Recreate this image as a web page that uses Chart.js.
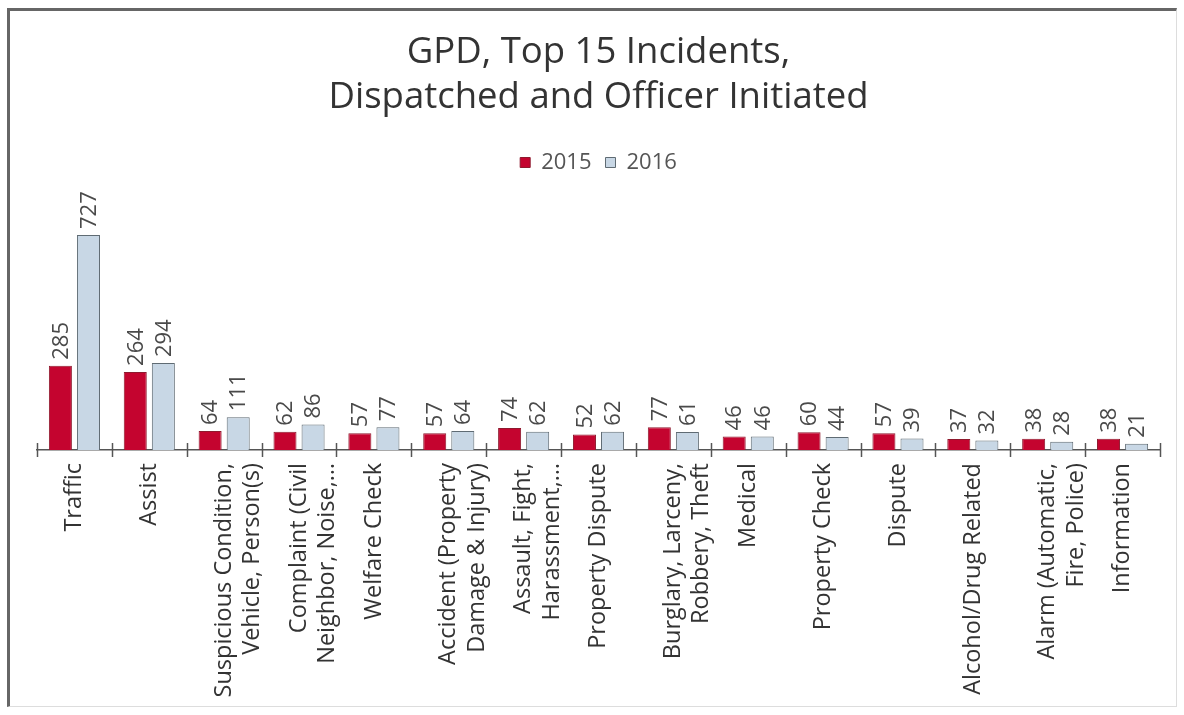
<!DOCTYPE html>
<html>
<head>
<meta charset="utf-8">
<title>GPD, Top 15 Incidents</title>
<script src="https://cdn.jsdelivr.net/npm/chart.js@4/dist/chart.umd.min.js"></script>
<style>
  html, body { margin: 0; padding: 0; background: #fff; }
  body { width: 1184px; height: 715px; position: relative; overflow: hidden; }
  #frame {
    position: absolute; left: 7px; top: 8px; width: 1170px; height: 699px;
    box-sizing: border-box;
    border-left: 3px solid #666; border-top: 3px solid #666;
    border-right: 1px solid #ddd; border-bottom: 1px solid #ddd;
  }
  #chart { position: absolute; left: 10px; top: 11px; }
</style>
</head>
<body>
<div id="frame"></div>
<canvas id="chart" width="1165" height="694"></canvas>
<script>
var categories = [
  'Traffic',
  'Assist',
  ['Suspicious Condition,', 'Vehicle, Person(s)'],
  ['Complaint (Civil', 'Neighbor, Noise,…'],
  'Welfare Check',
  ['Accident (Property', 'Damage & Injury)'],
  ['Assault, Fight,', 'Harassment,…'],
  'Property Dispute',
  ['Burglary, Larceny,', 'Robbery, Theft'],
  'Medical',
  'Property Check',
  'Dispute',
  'Alcohol/Drug Related',
  ['Alarm (Automatic,', 'Fire, Police)'],
  'Information'
];
var values2015 = [285, 264, 64, 62, 57, 57, 74, 52, 77, 46, 60, 57, 37, 38, 38];
var values2016 = [727, 294, 111, 86, 77, 64, 62, 62, 61, 46, 44, 39, 32, 28, 21];

var FONT = '"Open Sans", Lato, sans-serif';

// value labels above each bar, rotated like the original
var barLabels = {
  id: 'barLabels',
  afterDatasetsDraw: function (chart) {
    var ctx = chart.ctx;
    ctx.save();
    ctx.font = '22px ' + FONT;
    ctx.fillStyle = '#4a4a4a';
    ctx.textAlign = 'left';
    ctx.textBaseline = 'middle';
    chart.data.datasets.forEach(function (ds, di) {
      var meta = chart.getDatasetMeta(di);
      meta.data.forEach(function (bar, i) {
        ctx.save();
        ctx.translate(bar.x, bar.y - 6);
        ctx.rotate(-Math.PI / 2);
        ctx.fillText(String(ds.data[i]), 0, 1);
        ctx.restore();
      });
    });
    ctx.restore();
  }
};

// small tick marks crossing the category axis between groups
var axisTicks = {
  id: 'axisTicks',
  afterDraw: function (chart) {
    var x = chart.scales.x;
    var ctx = chart.ctx;
    var n = categories.length;
    var step = (x.right - x.left) / n;
    ctx.save();
    ctx.strokeStyle = '#555';
    ctx.lineWidth = 1.5;
    for (var i = 0; i <= n; i++) {
      var px = Math.round(x.left + i * step) + 0.5;
      ctx.beginPath();
      ctx.moveTo(px, x.top - 7);
      ctx.lineTo(px, x.top + 7);
      ctx.stroke();
    }
    ctx.restore();
  }
};

new Chart(document.getElementById('chart'), {
  type: 'bar',
  data: {
    labels: categories,
    datasets: [
      {
        label: '2015',
        data: values2015,
        backgroundColor: '#c4042f',
        borderColor: '#8e1a2e',
        borderWidth: 1,
        categoryPercentage: 0.75,
        barPercentage: 0.82
      },
      {
        label: '2016',
        data: values2016,
        backgroundColor: '#c8d7e5',
        borderColor: '#5f6b73',
        borderWidth: 1,
        categoryPercentage: 0.75,
        barPercentage: 0.82
      }
    ]
  },
  options: {
    responsive: false,
    animation: false,
    layout: { padding: { left: 27, right: 15, top: 0, bottom: 0 } },
    scales: {
      x: {
        grid: { display: false, drawTicks: false },
        border: { display: true, color: '#555', width: 1.5 },
        ticks: {
          autoSkip: false,
          minRotation: 90,
          maxRotation: 90,
          padding: 13,
          color: '#333',
          font: { family: FONT, size: 23.5, lineHeight: 1.2 }
        },
        afterFit: function (scale) { scale.height = 255; }
      },
      y: {
        display: false,
        min: 0,
        max: 901
      }
    },
    plugins: {
      title: {
        display: true,
        text: ['GPD, Top 15 Incidents,', 'Dispatched and Officer Initiated'],
        color: '#333',
        font: { family: FONT, size: 36.5, weight: 'normal', lineHeight: 1.233 },
        padding: { top: 19.5, bottom: 17 }
      },
      legend: {
        display: true,
        labels: {
          color: '#555',
          boxWidth: 10,
          boxHeight: 10,
          padding: 14,
          font: { family: FONT, size: 22 }
        }
      },
      tooltip: { enabled: false }
    }
  },
  plugins: [barLabels, axisTicks]
});
</script>
</body>
</html>
